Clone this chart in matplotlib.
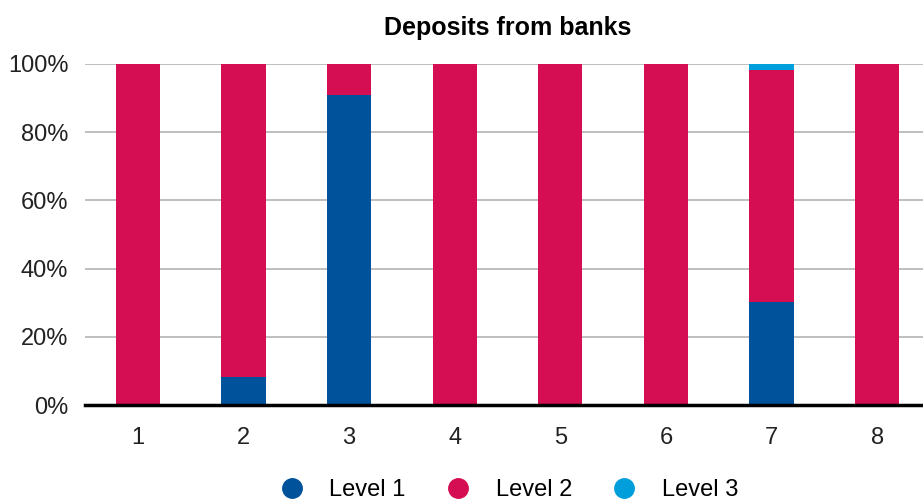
import numpy as np
import matplotlib.pyplot as plt
from matplotlib.lines import Line2D

plt.rcParams['font.family'] = ['Liberation Sans', 'DejaVu Sans']

categories = ['1', '2', '3', '4', '5', '6', '7', '8']
level1 = [0, 8.3, 90.9, 0, 0, 0, 30.3, 0]
level2 = [100, 91.7, 9.1, 100, 100, 100, 67.9, 100]
level3 = [0, 0, 0, 0, 0, 0, 1.8, 0]

c1, c2, c3 = '#00529B', '#D50D52', '#009FDB'

fig = plt.figure(figsize=(9.23, 5.0), dpi=100)
ax = fig.add_axes([85 / 923, 95 / 500, 845 / 923, 341 / 500])

x = np.arange(1, len(categories) + 1)
w = 0.42
l1 = np.array(level1)
l2 = np.array(level2)
l3 = np.array(level3)
ax.bar(x, l1, w, color=c1, zorder=3)
ax.bar(x, l2, w, bottom=l1, color=c2, zorder=3)
ax.bar(x, l3, w, bottom=l1 + l2, color=c3, zorder=3)

ax.set_xlim(0.5, 8.5)
ax.set_ylim(0, 100)
ax.set_yticks(range(0, 101, 20))
ax.set_yticklabels([f'{v}%' for v in range(0, 101, 20)])
ax.set_xticks(x)
ax.set_xticklabels(categories)
ax.yaxis.grid(True, color='#b4b4b4', linewidth=1.2, zorder=0)
for s in ['top', 'right', 'left']:
    ax.spines[s].set_visible(False)
ax.spines['bottom'].set_linewidth(2.5)
ax.spines['bottom'].set_zorder(4)
ax.tick_params(axis='y', length=0, pad=12, labelsize=17, labelcolor='#222222')
ax.tick_params(axis='x', length=0, pad=16, labelsize=17, labelcolor='#222222')

fig.text(508 / 923, 1 - 28 / 500, 'Deposits from banks', ha='center', va='center',
         fontsize=18, fontweight='bold')

handles = [Line2D([], [], marker='o', linestyle='', markersize=14, color=c)
           for c in (c1, c2, c3)]
fig.legend(handles, ['Level 1', 'Level 2', 'Level 3'], loc='center',
           bbox_to_anchor=(503 / 923, 1 - 490 / 500), ncol=3, frameon=False,
           fontsize=17, handletextpad=0.6, columnspacing=1.2)

fig.savefig('out.png', dpi=100)
